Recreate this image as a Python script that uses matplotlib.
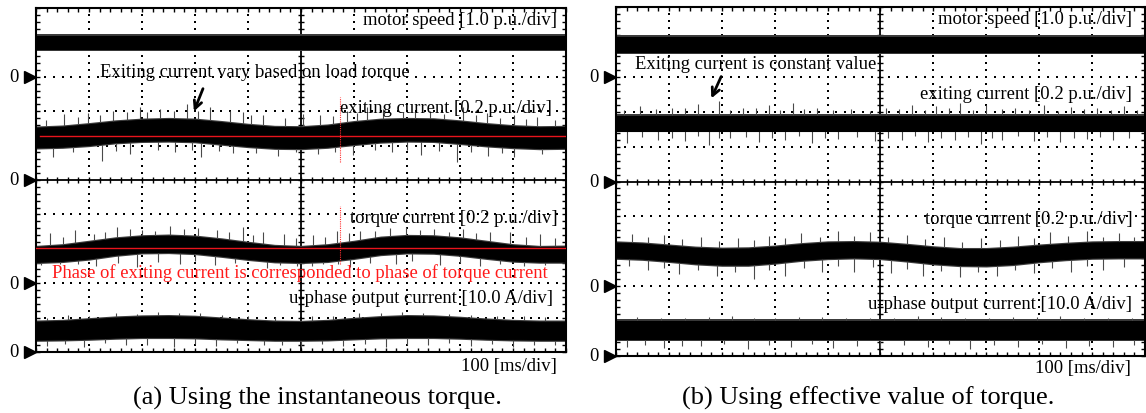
import numpy as np
import matplotlib
matplotlib.use("Agg")
import matplotlib.pyplot as plt

plt.rcParams['font.family'] = ['Liberation Serif', 'DejaVu Serif']

# envelope sample positions [div]
env_x = np.arange(0, 10.01, 0.5)

# ---------- (a) instantaneous torque ----------
spd_a_top = [9.20] * 21
spd_a_bot = [8.80] * 21
ex_a_top = [6.52, 6.55, 6.62, 6.70, 6.75, 6.77, 6.75, 6.68, 6.60, 6.54, 6.53,
            6.58, 6.68, 6.75, 6.77, 6.76, 6.70, 6.62, 6.56, 6.53, 6.54]
ex_a_bot = [5.95, 5.97, 6.02, 6.10, 6.14, 6.15, 6.13, 6.06, 5.99, 5.94, 5.93,
            5.97, 6.05, 6.12, 6.15, 6.14, 6.08, 6.01, 5.96, 5.93, 5.94]
tq_a_top = [3.05, 3.10, 3.20, 3.30, 3.36, 3.38, 3.35, 3.27, 3.17, 3.08, 3.05,
            3.10, 3.20, 3.32, 3.37, 3.36, 3.30, 3.20, 3.10, 3.05, 3.06]
tq_a_bot = [2.62, 2.65, 2.72, 2.83, 2.90, 2.91, 2.88, 2.80, 2.71, 2.64, 2.62,
            2.65, 2.74, 2.85, 2.90, 2.89, 2.83, 2.74, 2.66, 2.63, 2.63]
u_a_top = [0.88, 0.90, 0.95, 1.00, 1.03, 1.04, 1.02, 0.97, 0.92, 0.88, 0.87,
           0.90, 0.96, 1.01, 1.04, 1.03, 0.99, 0.94, 0.90, 0.88, 0.88]
u_a_bot = [0.36, 0.37, 0.39, 0.42, 0.44, 0.44, 0.43, 0.40, 0.38, 0.36, 0.36,
           0.37, 0.40, 0.43, 0.44, 0.44, 0.42, 0.39, 0.37, 0.36, 0.36]

ex_a_up_x = [0.52, 0.99, 1.46, 1.71, 1.96, 2.34, 2.84, 3.28, 3.66, 3.91, 4.29,
             5.04, 5.36, 5.86, 6.24, 6.55, 6.93, 7.43, 8.06, 8.50, 9.01, 9.45,
             0.18, 0.80, 1.20, 2.10, 2.60, 3.05, 4.05, 4.70, 5.60, 6.05, 7.15,
             7.70, 8.30, 8.75, 9.25, 9.80]
ex_a_up_y = [6.92, 6.95, 7.01, 6.98, 7.11, 7.05, 7.21, 7.11, 7.02, 6.97, 6.90,
             6.92, 6.88, 7.00, 7.11, 7.05, 6.98, 7.02, 7.11, 6.95, 6.90, 6.82,
             6.75, 6.82, 6.90, 6.98, 7.00, 7.02, 6.88, 6.80, 6.85, 6.95, 6.98,
             6.92, 6.88, 6.80, 6.78, 6.74]
ex_a_dn_x = [0.33, 1.24, 1.78, 2.62, 3.12, 3.72, 4.57, 5.32, 5.98, 6.71, 7.26,
             7.95, 8.52, 9.02, 0.70, 1.50, 2.30, 2.95, 3.45, 4.15, 4.90, 5.65,
             6.40, 7.00, 7.60, 8.20, 8.80, 9.55]
ex_a_dn_y = [5.66, 5.56, 5.75, 5.80, 5.66, 5.78, 5.70, 5.76, 5.72, 5.80, 5.74,
             5.51, 5.70, 5.68, 5.80, 5.85, 5.88, 5.86, 5.84, 5.78, 5.80, 5.82,
             5.86, 5.88, 5.85, 5.80, 5.78, 5.76]
tq_a_up_x = [0.26, 0.74, 1.52, 1.77, 2.53, 3.06, 3.41, 3.91, 4.29, 4.67, 5.23,
             5.67, 6.11, 6.68, 6.99, 7.50, 8.06, 8.57, 8.94, 9.51,
             0.50, 1.10, 1.30, 2.00, 2.25, 2.80, 3.65, 4.10, 4.90, 5.45, 5.90,
             6.40, 7.25, 7.80, 8.30, 9.25, 9.80]
tq_a_up_y = [3.45, 3.55, 3.62, 3.58, 3.67, 3.60, 3.55, 3.62, 3.50, 3.42, 3.40,
             3.52, 3.53, 3.60, 3.62, 3.58, 3.58, 3.50, 3.48, 3.42,
             3.35, 3.42, 3.48, 3.55, 3.52, 3.58, 3.50, 3.40, 3.30, 3.35, 3.45,
             3.52, 3.55, 3.50, 3.45, 3.35, 3.30]
tq_a_dn_x = [0.45, 1.14, 1.90, 2.72, 3.38, 4.35, 4.92, 5.42, 5.92, 6.80, 7.62,
             8.38, 9.20, 0.10, 0.80, 1.55, 2.30, 3.00, 3.75, 4.60, 5.20, 5.70,
             6.30, 7.10, 8.00, 8.75, 9.60]
tq_a_dn_y = [2.56, 2.50, 2.46, 2.55, 2.52, 2.45, 2.50, 2.56, 2.48, 2.55, 2.52,
             2.49, 2.50, 2.52, 2.55, 2.60, 2.62, 2.64, 2.58, 2.52, 2.50, 2.56,
             2.60, 2.65, 2.60, 2.55, 2.52]
u_a_up_x = [0.6, 1.5, 2.3, 3.1, 4.0, 5.2, 6.1, 6.9, 7.8, 8.7, 9.6,
            0.2, 1.0, 1.9, 2.7, 3.5, 4.5, 5.6, 6.5, 7.3, 8.2, 9.2]
u_a_up_y = [1.08, 1.12, 1.16, 1.12, 1.05, 1.04, 1.12, 1.16, 1.10, 1.06, 1.02,
            1.00, 1.05, 1.10, 1.13, 1.08, 1.02, 1.06, 1.12, 1.14, 1.08, 1.04]
u_a_dn_x = [0.2, 0.9, 1.7, 2.6, 3.4, 4.3, 5.0, 5.8, 6.6, 7.4, 8.2, 9.0, 9.8,
            0.55, 1.30, 2.10, 3.00, 3.80, 4.65, 5.40, 6.20, 7.00, 7.80, 8.60,
            9.40]
u_a_dn_y = [0.18, 0.15, 0.20, 0.14, 0.17, 0.20, 0.15, 0.18, 0.14, 0.20, 0.16,
            0.15, 0.19, 0.22, 0.25, 0.20, 0.23, 0.26, 0.21, 0.24, 0.22, 0.20,
            0.25, 0.23, 0.21]

red_level_ex = 6.27
red_level_tq = 3.02
red_mark_x = 5.74

# ---------- (b) effective value of torque ----------
spd_b_top = [9.14] * 21
spd_b_bot = [8.71] * 21
ex_b_top = [6.89] * 21
ex_b_bot = [6.46] * 21
tq_b_top = [3.25, 3.22, 3.16, 3.10, 3.07, 3.08, 3.13, 3.20, 3.25, 3.26, 3.24,
            3.18, 3.11, 3.06, 3.06, 3.10, 3.16, 3.21, 3.25, 3.26, 3.26]
tq_b_bot = [2.82, 2.79, 2.73, 2.66, 2.62, 2.62, 2.68, 2.76, 2.81, 2.83, 2.81,
            2.74, 2.66, 2.61, 2.60, 2.64, 2.72, 2.78, 2.82, 2.83, 2.83]
u_b_top = [1.01] * 21
u_b_bot = [0.49] * 21

ex_b_up_x = [0.45, 1.05, 1.55, 1.95, 2.40, 2.90, 3.35, 3.80, 4.45, 5.10, 5.60,
             6.05, 6.50, 7.00, 7.55, 8.10, 8.60, 9.10, 9.60,
             0.15, 0.75, 1.30, 2.15, 2.65, 3.10, 3.55, 4.10, 4.80, 5.35, 5.85,
             6.30, 6.75, 7.30, 7.80, 8.35, 8.85, 9.35, 9.85]
ex_b_up_y = [7.15, 7.10, 7.22, 7.31, 7.12, 7.18, 7.25, 7.10, 7.08, 7.12, 7.20,
             7.15, 7.24, 7.18, 7.12, 7.20, 7.14, 7.10, 7.16,
             7.05, 7.08, 7.12, 7.06, 7.10, 7.04, 7.09, 7.06, 7.02, 7.08, 7.05,
             7.10, 7.04, 7.08, 7.06, 7.03, 7.09, 7.05, 7.04]
ex_b_dn_x = [0.20, 0.80, 1.30, 1.75, 2.15, 2.70, 3.20, 3.70, 4.20, 4.90, 5.40,
             5.90, 6.40, 6.90, 7.30, 7.90, 8.40, 8.90, 9.40,
             0.50, 1.05, 1.55, 1.95, 2.45, 2.95, 3.45, 3.95, 4.55, 5.15, 5.65,
             6.15, 6.65, 7.10, 7.60, 8.15, 8.65, 9.15, 9.70]
ex_b_dn_y = [6.10, 6.20, 6.15, 6.05, 6.25, 6.12, 6.18, 6.10, 6.22, 6.15, 6.20,
             6.12, 6.18, 6.08, 6.20, 6.15, 6.12, 6.22, 6.18,
             6.28, 6.25, 6.30, 6.24, 6.28, 6.26, 6.30, 6.25, 6.28, 6.24, 6.30,
             6.26, 6.28, 6.25, 6.30, 6.27, 6.24, 6.28, 6.26]
tq_b_up_x = [0.3, 0.9, 1.6, 2.3, 2.9, 3.5, 4.2, 4.8, 5.5, 6.2, 6.9, 7.6, 8.2,
             8.9, 9.5, 0.6, 1.25, 1.95, 2.6, 3.2, 3.85, 4.5, 5.15, 5.85, 6.55,
             7.25, 7.9, 8.55, 9.2, 9.8]
tq_b_up_y = [3.50, 3.48, 3.40, 3.38, 3.45, 3.52, 3.59, 3.55, 3.48, 3.40, 3.38,
             3.45, 3.55, 3.58, 3.52, 3.40, 3.35, 3.30, 3.32, 3.38, 3.42, 3.45,
             3.40, 3.35, 3.28, 3.32, 3.38, 3.45, 3.42, 3.40]
tq_b_dn_x = [0.6, 1.2, 1.9, 2.6, 3.2, 3.9, 4.5, 5.2, 5.8, 6.5, 7.2, 7.9, 8.6,
             9.2, 0.25, 0.9, 1.55, 2.25, 2.9, 3.55, 4.2, 4.85, 5.5, 6.15,
             6.85, 7.55, 8.25, 8.9, 9.6]
tq_b_dn_y = [2.45, 2.35, 2.30, 2.20, 2.28, 2.40, 2.42, 2.38, 2.30, 2.25, 2.30,
             2.38, 2.42, 2.45, 2.58, 2.52, 2.45, 2.42, 2.46, 2.52, 2.58, 2.56,
             2.50, 2.44, 2.40, 2.45, 2.52, 2.58, 2.56]
u_b_up_x = [0.4, 1.3, 2.2, 3.0, 3.9, 4.8, 5.7, 6.6, 7.5, 8.4, 9.3,
            0.85, 1.75, 2.6, 3.45, 4.35, 5.25, 6.15, 7.05, 7.95, 8.85, 9.75]
u_b_up_y = [1.12, 1.10, 1.15, 1.08, 1.12, 1.10, 1.14, 1.09, 1.12, 1.15, 1.10,
            1.08, 1.11, 1.09, 1.12, 1.08, 1.10, 1.12, 1.09, 1.11, 1.08, 1.10]
u_b_dn_x = [0.2, 0.9, 1.6, 2.5, 3.3, 4.1, 5.0, 5.9, 6.7, 7.6, 8.5, 9.4,
            0.55, 1.25, 2.05, 2.9, 3.7, 4.55, 5.45, 6.3, 7.15, 8.05, 8.95, 9.8]
u_b_dn_y = [0.25, 0.22, 0.28, 0.20, 0.26, 0.24, 0.22, 0.27, 0.21, 0.25, 0.23,
            0.26, 0.32, 0.30, 0.34, 0.31, 0.33, 0.30, 0.32, 0.34, 0.31, 0.33,
            0.30, 0.32]

zero_levels = [8, 5, 2, 0]
fs = 13.4


def scope_frame(ax, xmax):
    ax.set_xlim(0, xmax)
    ax.set_ylim(0, 10)
    # dotted graticule
    for gx in [1, 2, 3, 4, 6, 7, 8, 9]:
        yd = np.arange(0.2, 10, 0.2)
        ax.plot([gx] * len(yd), yd, ls='none', marker='s', ms=1.6,
                mew=0, color='k', zorder=1)
    for gy in [1, 2, 3, 4, 6, 7, 8, 9]:
        xd = np.arange(1 / 6, 10, 1 / 6)
        ax.plot(xd, [gy] * len(xd), ls='none', marker='s', ms=1.6,
                mew=0, color='k', zorder=1)
    # centre axes with small ticks
    ax.axhline(5, color='k', lw=1.3, zorder=1)
    ax.axvline(5, color='k', lw=1.3, zorder=1)
    xt = np.arange(0, 10.01, 0.2)
    yt = np.arange(0, 10.01, 0.2)
    ax.plot(xt, [5] * len(xt), ls='none', marker='|', ms=5, mew=1, color='k')
    ax.plot([5] * len(yt), yt, ls='none', marker='_', ms=5, mew=1, color='k')
    ax.set_xticks(xt)
    ax.set_yticks(yt)
    ax.tick_params(direction='in', length=3, width=1, top=True, right=True,
                   labelbottom=False, labelleft=False)
    for s in ax.spines.values():
        s.set_linewidth(1.5)
    # channel zero markers
    for z in zero_levels:
        ax.plot([-0.11], [z], marker='>', ms=9, color='k', clip_on=False)
        ax.text(-0.42, z, '0', fontsize=fs, ha='center', va='center')


def trace(ax, top, bot, upx=(), upy=(), dnx=(), dny=()):
    top = np.asarray(top)
    bot = np.asarray(bot)
    # dark fringe of the noisy edges
    ax.fill_between(env_x, bot - 0.05, top + 0.05, color='#3c3c3c', lw=0,
                    zorder=2)
    ax.fill_between(env_x, bot, top, color='k', lw=0.8, edgecolor='k',
                    zorder=3)
    if len(upx):
        base = np.interp(upx, env_x, top)
        ax.vlines(upx, base, upy, color='#4a4a4a', lw=0.8, zorder=2)
    if len(dnx):
        base = np.interp(dnx, env_x, bot)
        ax.vlines(dnx, dny, base, color='#4a4a4a', lw=0.8, zorder=2)


fig = plt.figure(figsize=(11.46, 4.14), dpi=100)
W, H = 1146, 414
ax_a = fig.add_axes([36 / W, (H - 353) / H, 530 / W, 344 / H])
ax_b = fig.add_axes([616 / W, (H - 357) / H, 529 / W, 349 / H])

# ---- panel (a)
scope_frame(ax_a, 10)
trace(ax_a, spd_a_top, spd_a_bot)
trace(ax_a, ex_a_top, ex_a_bot, ex_a_up_x, ex_a_up_y, ex_a_dn_x, ex_a_dn_y)
trace(ax_a, tq_a_top, tq_a_bot, tq_a_up_x, tq_a_up_y, tq_a_dn_x, tq_a_dn_y)
trace(ax_a, u_a_top, u_a_bot, u_a_up_x, u_a_up_y, u_a_dn_x, u_a_dn_y)
ax_a.plot([0.08, 9.98], [red_level_ex] * 2, color='#e8141c', lw=1, zorder=4)
ax_a.plot([0.0, 9.98], [red_level_tq] * 2, color='#e8141c', lw=1, zorder=4)
ax_a.plot([red_mark_x] * 2, [5.52, 7.41], color='#ff3030', lw=0.8,
          ls=(0, (1, 1)), zorder=4)
ax_a.plot([red_mark_x] * 2, [2.56, 4.24], color='#ff3030', lw=0.8,
          ls=(0, (1, 1)), zorder=4)

ax_a.text(9.83, 9.68, 'motor speed [1.0 p.u./div]', fontsize=fs,
          ha='right', va='center', zorder=5)
ax_a.text(1.21, 8.14, 'Exiting current vary based on load torque',
          fontsize=fs, ha='left', va='center', zorder=5)
ax_a.annotate('', xy=(2.96, 6.92), xytext=(3.17, 7.73),
              arrowprops=dict(arrowstyle='->', lw=2, color='k',
                              mutation_scale=14), zorder=5)
ax_a.text(9.74, 7.12, 'exiting current [0.2 p.u./div]', fontsize=fs,
          ha='right', va='center', zorder=5)
ax_a.text(9.85, 3.90, 'torque current [0.2 p.u./div]', fontsize=fs,
          ha='right', va='center', zorder=5)
ax_a.text(4.98, 2.33,
          'Phase of exiting current is corresponded to phase of torque current',
          fontsize=fs, color='#ff1a1a', ha='center', va='center', zorder=5)
ax_a.text(9.75, 1.57, 'u-phase output current [10.0 A/div]', fontsize=fs,
          ha='right', va='center', zorder=5)
ax_a.text(9.83, -0.38, '100 [ms/div]', fontsize=fs, ha='right', va='center')

# ---- panel (b)
scope_frame(ax_b, 529 / 53.3)
trace(ax_b, spd_b_top, spd_b_bot)
trace(ax_b, ex_b_top, ex_b_bot, ex_b_up_x, ex_b_up_y, ex_b_dn_x, ex_b_dn_y)
trace(ax_b, tq_b_top, tq_b_bot, tq_b_up_x, tq_b_up_y, tq_b_dn_x, tq_b_dn_y)
trace(ax_b, u_b_top, u_b_bot, u_b_up_x, u_b_up_y, u_b_dn_x, u_b_dn_y)

ax_b.text(9.76, 9.66, 'motor speed [1.0 p.u./div]', fontsize=fs,
          ha='right', va='center', zorder=5)
ax_b.text(0.36, 8.37, 'Exiting current is constant value', fontsize=fs,
          ha='left', va='center', zorder=5)
ax_b.annotate('', xy=(1.78, 7.31), xytext=(2.01, 8.08),
              arrowprops=dict(arrowstyle='->', lw=2, color='k',
                              mutation_scale=14), zorder=5)
ax_b.text(9.76, 7.51, 'exiting current [0.2 p.u./div]', fontsize=fs,
          ha='right', va='center', zorder=5)
ax_b.text(9.76, 3.93, 'torque current [0.2 p.u./div]', fontsize=fs,
          ha='right', va='center', zorder=5)
ax_b.text(9.76, 1.49, 'u-phase output current [10.0 A/div]', fontsize=fs,
          ha='right', va='center', zorder=5)
ax_b.text(9.74, -0.32, '100 [ms/div]', fontsize=fs, ha='right', va='center')

fig.text(317 / W, (H - 398) / H, '(a) Using the instantaneous torque.',
         fontsize=19, ha='center', va='center')
fig.text(868 / W, (H - 398) / H, '(b) Using effective value of torque.',
         fontsize=19, ha='center', va='center')

fig.savefig('out.png', dpi=100)
